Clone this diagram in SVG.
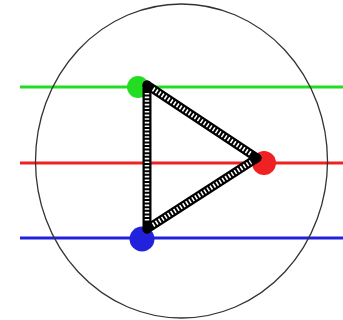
<svg xmlns="http://www.w3.org/2000/svg" width="343" height="320" viewBox="0 0 343 320">
<style>
.hl{stroke-width:2.8;fill:none}
.sb{stroke:#000;stroke-width:9;fill:none;stroke-linecap:round}
.sw{stroke:#fff;stroke-width:4.5;fill:none;stroke-dasharray:1.6 2}
</style>
<rect width="343" height="320" fill="#fff"/>
<g id="guides">
<line class="hl" x1="20" y1="87" x2="343" y2="87" stroke="#22dd22"/>
<line class="hl" x1="20" y1="163" x2="343" y2="163" stroke="#ee2222"/>
<line class="hl" x1="20" y1="238" x2="343" y2="238" stroke="#2222dd"/>
<ellipse cx="181.5" cy="161" rx="146" ry="157" fill="none" stroke="#333" stroke-width="1.3"/>
</g>
<g id="node-green"><circle cx="138" cy="87" r="11" fill="#22dd22"/></g>
<g id="node-red"><circle cx="264" cy="163" r="12" fill="#ee2222"/></g>
<g id="node-blue"><circle cx="142" cy="239" r="12.5" fill="#2222dd"/></g>
<g id="connectors">
<path class="sb" d="M147 85 L147 229"/>
<path class="sw" d="M147 93 L147 222"/>
<path class="sb" d="M147 85 L257 158"/>
<path class="sw" d="M153 89 L251 154"/>
<path class="sb" d="M147 229 L257 158"/>
<path class="sw" d="M153 225 L251 162"/>
</g>
</svg>
